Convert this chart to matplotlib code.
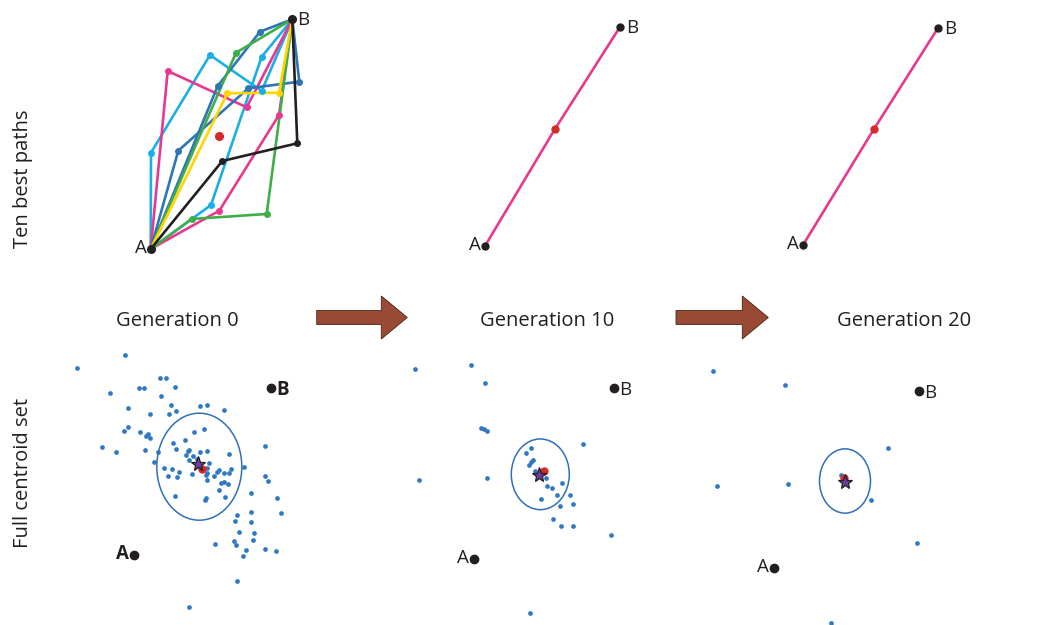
import matplotlib.pyplot as plt
from matplotlib.patches import Ellipse, FancyArrow

plt.rcParams['font.family'] = ['Open Sans', 'DejaVu Sans']

# ---- data (figure pixel coordinates, y grows downward) ----
# top-left panel: ten best paths from A to B at generation 0
start_A = (150.7, 249.0)
end_B = (292.3, 19.3)
path_colors = ['#1aafe6', '#1aafe6', '#e8388f', '#e8388f', '#2e75b6',
               '#2e75b6', '#3fae49', '#3fae49', '#ffd400', '#231f20']
path_x = [[151.0, 210.0, 261.7],
          [211.0, 261.7],
          [167.7, 246.7],
          [219.3, 279.0],
          [178.3, 248.3, 299.3],
          [217.7, 260.0],
          [191.7, 266.7],
          [236.0],
          [227.3, 279.0],
          [222.3, 297.3]]
path_y = [[152.7, 55.0, 91.0],
          [205.0, 56.7],
          [71.0, 107.3],
          [210.7, 115.0],
          [150.7, 88.3, 81.7],
          [86.0, 31.7],
          [219.0, 214.0],
          [52.7],
          [93.3, 92.7],
          [161.0, 143.3]]
centroid0 = (219.3, 135.7)

# later generations: single best path through centroid
best_A = [(485.0, 246.0), (803.0, 245.0)]
best_B = [(620.0, 27.0), (938.0, 28.0)]
best_mid = [(555.0, 129.0), (874.0, 129.0)]

# bottom row: full centroid sets
cloud0_x = [125.0, 76.7, 160.0, 166.0, 139.0, 144.0, 175.0, 110.3, 161.0, 171.0,
            200.0, 207.3, 223.7, 128.3, 176.0, 169.3, 150.0, 127.7, 124.3, 204.3,
            140.3, 194.3, 146.0, 148.3, 150.3, 185.0, 102.3, 115.7, 173.3, 144.7,
            158.3, 176.0, 199.7, 207.3, 187.7, 189.3, 186.0, 189.0, 193.3, 197.0,
            229.0, 154.3, 209.0, 164.3, 172.3, 179.3, 168.0, 176.7, 191.7, 206.7,
            207.3, 206.0, 214.0, 217.3, 219.3, 223.7, 229.0, 231.0, 244.0, 207.3,
            221.3, 224.3, 228.3, 218.7, 225.3, 175.3, 205.7, 204.7, 251.0, 265.3,
            265.0, 268.3, 276.7, 281.0, 236.7, 235.3, 251.0, 250.7, 238.7, 254.0,
            252.7, 234.3, 235.7, 215.3, 246.0, 243.3, 265.3, 276.0, 236.7, 189.0]
cloud0_y = [355.3, 368.3, 378.0, 378.0, 387.7, 387.7, 387.0, 393.0, 395.7, 405.0,
            406.0, 405.3, 409.7, 408.0, 411.0, 414.3, 414.0, 427.3, 430.7, 429.0,
            432.3, 432.3, 435.7, 434.3, 437.7, 439.7, 446.7, 452.3, 443.0, 450.3,
            451.7, 449.3, 452.3, 451.0, 451.0, 450.0, 455.0, 460.0, 455.7, 459.0,
            454.0, 462.0, 463.3, 467.7, 469.0, 472.3, 475.7, 477.3, 474.0, 468.3,
            472.7, 475.3, 476.3, 472.3, 470.0, 473.3, 472.7, 468.7, 466.7, 480.0,
            482.7, 482.0, 484.0, 489.7, 497.3, 496.0, 498.3, 500.3, 493.0, 446.0,
            476.0, 480.7, 498.0, 513.3, 515.0, 520.7, 512.3, 521.7, 531.7, 533.3,
            540.0, 541.0, 545.0, 544.0, 550.3, 556.0, 549.0, 550.7, 580.7, 606.7]
cloud10_x = [414.7, 471.0, 485.3, 481.0, 484.0, 487.0, 418.7, 487.3, 583.0, 530.7,
             526.0, 533.3, 531.0, 528.7, 535.0, 545.7, 547.3, 552.0, 561.7, 557.3,
             570.0, 541.0, 560.0, 573.0, 553.0, 560.7, 572.7, 611.0, 529.7]
cloud10_y = [369.0, 365.3, 383.3, 428.3, 428.7, 430.7, 480.0, 478.3, 443.7, 448.3,
             453.3, 460.0, 461.7, 465.0, 470.7, 478.0, 486.3, 488.0, 482.7, 494.7,
             495.3, 498.7, 506.3, 504.3, 519.3, 525.7, 525.7, 535.3, 613.0]
cloud20_x = [712.7, 785.3, 887.7, 716.7, 788.3, 841.0, 870.7, 916.7, 830.7]
cloud20_y = [370.7, 384.7, 448.3, 486.0, 484.3, 475.0, 500.0, 543.3, 623.3]
clouds = [(cloud0_x, cloud0_y), (cloud10_x, cloud10_y), (cloud20_x, cloud20_y)]

ell_center = [(199.3, 466.7), (540.3, 474.3), (845.0, 481.0)]
ell_size = [(85, 107), (58, 70.7), (51, 64.3)]
star_pos = [(198.3, 464.0), (538.7, 475.0), (845.3, 481.7)]
red_pos = [(201.7, 469.3), (544.3, 470.7), (844.3, 478.3)]
cloud_A = [(134.3, 555.0), (474.3, 558.7), (773.7, 568.0)]
cloud_B = [(271.0, 387.7), (614.3, 387.7), (918.7, 390.7)]

gen_labels = ['Generation 0', 'Generation 10', 'Generation 20']
gen_x = [177, 547, 904]
arrow_x = [(316.7, 407.3), (676.0, 768.3)]

BLUE = '#2f78c2'
BLACK = '#231f20'

fig = plt.figure(figsize=(10.47, 6.25), dpi=100)
ax = fig.add_axes([0, 0, 1, 1])
ax.set_xlim(0, 1047)
ax.set_ylim(625, 0)
ax.axis('off')

# top-left: ten paths
for c, px, py in zip(path_colors, path_x, path_y):
    xs = [start_A[0]] + px + [end_B[0]]
    ys = [start_A[1]] + py + [end_B[1]]
    ax.plot(xs, ys, color=c, lw=1.9, zorder=2)
    ax.plot(px, py, 'o', color=c, ms=4, zorder=3)
ax.plot(*centroid0, 'o', color='#d42a2a', ms=5.5, zorder=4)
ax.plot([start_A[0], end_B[0]], [start_A[1], end_B[1]], 'o', color=BLACK, ms=5.5, zorder=5)
ax.text(start_A[0] - 4, start_A[1] - 1, 'A', ha='right', va='center', fontsize=13.5, color=BLACK)
ax.text(end_B[0] + 5, end_B[1] + 1, 'B', ha='left', va='center', fontsize=13.5, color=BLACK)

# top middle / right: converged path
for a, b, m in zip(best_A, best_B, best_mid):
    ax.plot([a[0], m[0], b[0]], [a[1], m[1], b[1]], color='#e8388f', lw=1.9, zorder=2)
    ax.plot(*m, 'o', color='#d42a2a', ms=5, zorder=3)
    ax.plot([a[0], b[0]], [a[1], b[1]], 'o', color=BLACK, ms=5, zorder=4)
    ax.text(a[0] - 4, a[1] - 1, 'A', ha='right', va='center', fontsize=13.5, color=BLACK)
    ax.text(b[0] + 6, b[1] + 1, 'B', ha='left', va='center', fontsize=13.5, color=BLACK)

# bottom row: centroid clouds
for i, (cx, cy) in enumerate(clouds):
    ax.plot(cx, cy, 'o', color=BLUE, ms=3.4, mew=0, zorder=2)
    ell = Ellipse(ell_center[i], ell_size[i][0], ell_size[i][1], fill=False,
                  edgecolor='#2f6fba', lw=1.1, zorder=3)
    ax.add_patch(ell)
    ax.plot(*red_pos[i], 'o', color='#d42a2a', ms=6, mew=0, zorder=4)
    ax.plot(*star_pos[i], '*', color='#6a3d9a', mec=BLACK, mew=0.9, ms=11, zorder=5)
    ax.plot(*cloud_A[i], 'o', color=BLACK, ms=6, zorder=4)
    ax.plot(*cloud_B[i], 'o', color=BLACK, ms=6, zorder=4)
    w = 'bold' if i == 0 else 'normal'
    ax.text(cloud_A[i][0] - 5, cloud_A[i][1] - 1, 'A', ha='right', va='center',
            fontsize=13.5, color=BLACK, fontweight=w)
    ax.text(cloud_B[i][0] + 5, cloud_B[i][1] + 2, 'B', ha='left', va='center',
            fontsize=13.5, color=BLACK, fontweight=w)

# generation labels and arrows
for lbl, gx in zip(gen_labels, gen_x):
    ax.text(gx, 321, lbl, ha='center', va='center', fontsize=14.5, color=BLACK)
for x0, x1 in arrow_x:
    ax.add_patch(FancyArrow(x0, 317.5, x1 - x0, 0, width=14, head_width=43,
                            head_length=26, length_includes_head=True,
                            facecolor='#984a35', edgecolor='#4a2418', lw=0.6))

# row labels
ax.text(23, 179, 'Ten best paths', rotation=90, ha='center', va='center',
        fontsize=14.5, color=BLACK)
ax.text(23, 473, 'Full centroid set', rotation=90, ha='center', va='center',
        fontsize=14.5, color=BLACK)

fig.savefig('out.png', dpi=100)
